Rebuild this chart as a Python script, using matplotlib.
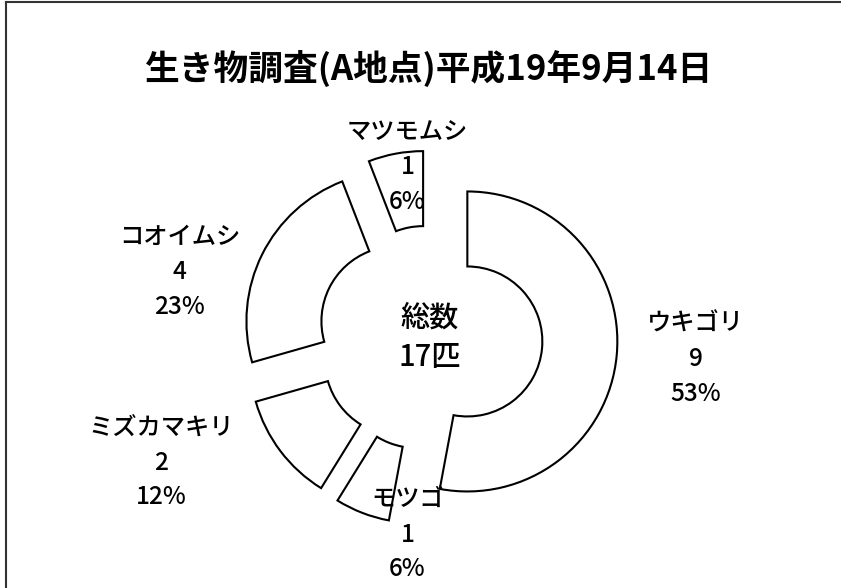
import matplotlib.pyplot as plt
from matplotlib.lines import Line2D

plt.rcParams['font.family'] = ['Noto Sans CJK JP', 'DejaVu Sans']

# data
names = ["ウキゴリ", "モツゴ", "ミズカマキリ", "コオイムシ", "マツモムシ"]
counts = [9, 1, 2, 4, 1]
percents = [53, 6, 12, 23, 6]
title = "生き物調査(A地点)平成19年9月14日"
center_text = "総数\n17匹"

fig = plt.figure(figsize=(8.41, 5.88), dpi=100)
ax = fig.add_axes([0, 0, 1, 1])

wedges, _ = ax.pie(counts, startangle=90, counterclock=False, radius=1.0,
                   explode=[0.25] * len(counts),
                   wedgeprops=dict(width=0.5, facecolor='white',
                                   edgecolor='black', linewidth=1.5))

# label positions (manually placed, like the original)
label_pos = [(1.77, -0.14), (-0.15, -1.31), (-1.79, -0.83),
             (-1.67, 0.44), (-0.15, 1.14)]
for name, c, p, (x, y) in zip(names, counts, percents, label_pos):
    ax.text(x, y, f"{name}\n{c}\n{p}%", ha='center', va='center',
            fontsize=17.5, linespacing=1.45, fontweight='medium')

ax.text(0, 0, center_text, ha='center', va='center', fontsize=21,
        linespacing=1.35, fontweight='medium')

# pixel scale: radius 1 = 150 px, pie centre at (430, 338) px from top-left
ax.set_aspect('auto')
ax.set_xlim(-430 / 150, (841 - 430) / 150)
ax.set_ylim(-(588 - 338) / 150, 338 / 150)
ax.axis('off')

fig.text(0.51, 0.884, title, ha='center', va='center', fontsize=25,
         fontweight='bold')

# frame remnants on left and top edges
fig.add_artist(Line2D([0.007, 0.007], [0, 0.997], color='#333333', lw=1.5))
fig.add_artist(Line2D([0.007, 1], [0.997, 0.997], color='#333333', lw=1.5))

plt.savefig('out.png', dpi=100)
